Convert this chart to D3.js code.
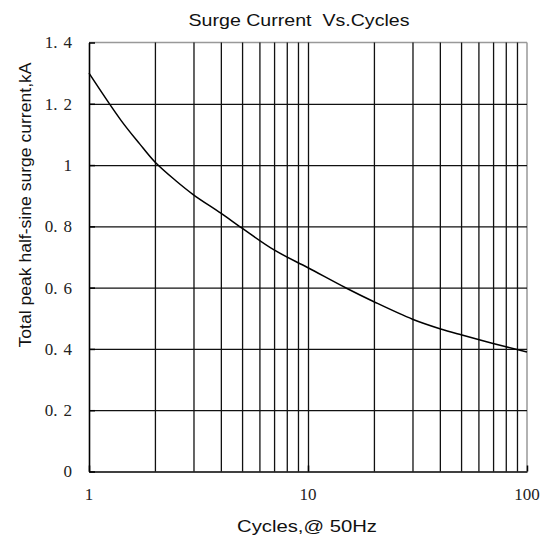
<!DOCTYPE html>
<html><head><meta charset="utf-8">
<script src="https://cdn.jsdelivr.net/npm/d3@7/dist/d3.min.js"></script>
<style>body{margin:0;background:#fff;} svg{display:block;} .serif{font-family:"Liberation Serif","Times New Roman",serif;}</style>
</head><body>
<script>
const cycles = [1, 1.4, 1.7, 2, 2.5, 3, 4, 5, 7, 10, 15, 20, 30, 40, 50, 70, 100];
const current = [1.30, 1.146, 1.07, 1.01, 0.948, 0.903, 0.843, 0.794, 0.723, 0.665, 0.598, 0.554, 0.497, 0.466, 0.446, 0.418, 0.39];
const xTickLabels = [1, 10, 100];
const xGrid = [2,3,4,5,6,7,8,9,10,20,30,40,50,60,70,80,90];
const yTicks = [0, 0.2, 0.4, 0.6, 0.8, 1, 1.2, 1.4];
const titleText = "Surge Current  Vs.Cycles";
const xTitle = "Cycles,@ 50Hz";
const yTitle = "Total peak half-sine surge current,kA";

const W = 543, H = 539;
const m = {left: 89, right: 16, top: 42.5, bottom: 67.5};
const svg = d3.select("body").append("svg").attr("width", W).attr("height", H);

const x = d3.scaleLog().domain([1, 100]).range([m.left, W - m.right]);
const y = d3.scaleLinear().domain([0, 1.4]).range([H - m.bottom, m.top]);
const pw = W - m.right - m.left, ph = H - m.bottom - m.top;

// border top/right grey
svg.append("line").attr("x1", x(1)).attr("x2", x(100)).attr("y1", y(1.4)).attr("y2", y(1.4)).attr("stroke", "#999").attr("stroke-width", 1.5);
svg.append("line").attr("x1", x(100)).attr("x2", x(100)).attr("y1", y(0)).attr("y2", y(1.4)).attr("stroke", "#999").attr("stroke-width", 1.5);

// vertical grid
svg.append("g").attr("transform", `translate(0,${y(0)})`)
  .call(d3.axisBottom(x).tickValues(xGrid).tickSize(-ph).tickFormat(""))
  .call(g => g.select(".domain").remove())
  .call(g => g.selectAll("line").attr("stroke", "#111").attr("stroke-width", 1.3));

// horizontal grid
svg.append("g").attr("transform", `translate(${x(1)},0)`)
  .call(d3.axisLeft(y).tickValues(yTicks.filter(v => v > 0 && v < 1.4)).tickSize(-pw).tickFormat(""))
  .call(g => g.select(".domain").remove())
  .call(g => g.selectAll("line").attr("stroke", "#111").attr("stroke-width", 1.3));

// left axis with inner ticks
svg.append("g").attr("transform", `translate(${x(1)},0)`)
  .call(d3.axisRight(y).tickValues(yTicks).tickSize(6).tickSizeOuter(0).tickFormat(""))
  .call(g => g.select(".domain").attr("stroke", "#000").attr("stroke-width", 1.6))
  .call(g => g.selectAll("line").attr("stroke", "#000").attr("stroke-width", 1.5));
// bottom axis
svg.append("g").attr("transform", `translate(0,${y(0)})`)
  .call(d3.axisTop(x).tickValues(xTickLabels).tickSize(6).tickSizeOuter(0).tickFormat(""))
  .call(g => g.select(".domain").attr("stroke", "#000").attr("stroke-width", 1.6))
  .call(g => g.selectAll("line").attr("stroke", "#000").attr("stroke-width", 1.5));

// y tick labels
const yl = svg.append("g").selectAll("text").data(yTicks).join("text")
  .attr("class", "serif")
  .attr("x", 72).attr("y", d => y(d)).attr("dy", "0.35em")
  .attr("text-anchor", "end")
  .style("font-size", "17px")
  .attr("fill", "#222");
yl.each(function(d) {
  const t = d3.select(this);
  if (d === 0 || d === 1) { t.text(String(d)); return; }
  const s = d.toFixed(1).split(".");
  t.append("tspan").text(s[0] + ".");
  t.append("tspan").attr("dx", 6).text(s[1]);
});

// x tick labels
svg.append("g").selectAll("text").data(xTickLabels).join("text")
  .attr("class", "serif")
  .attr("x", d => x(d)).attr("y", 500)
  .attr("text-anchor", "middle")
  .style("font-size", "17px")
  .attr("fill", "#222")
  .text(d => d);

// curve
const line = d3.line().x((d, i) => x(cycles[i])).y(d => y(d)).curve(d3.curveCatmullRom.alpha(0.5));
svg.append("path").datum(current).attr("d", line)
  .attr("fill", "none").attr("stroke", "#000").attr("stroke-width", 1.5);

// titles
svg.append("text").attr("x", 299).attr("y", 26).attr("text-anchor", "middle")
  .attr("font-family", "'Liberation Sans', Arial, sans-serif").attr("font-size", 17)
  .style("white-space", "pre").attr("fill", "#111")
  .attr("textLength", 221).attr("lengthAdjust", "spacingAndGlyphs")
  .text(titleText);

svg.append("text").attr("x", 307).attr("y", 532).attr("text-anchor", "middle")
  .attr("font-family", "'Liberation Sans', Arial, sans-serif").attr("font-size", 17)
  .attr("fill", "#111")
  .attr("textLength", 140).attr("lengthAdjust", "spacingAndGlyphs")
  .text(xTitle);

svg.append("text").attr("transform", "translate(31,205) rotate(-90)")
  .attr("text-anchor", "middle")
  .attr("font-family", "'Liberation Sans', Arial, sans-serif").attr("font-size", 17)
  .attr("fill", "#111")
  .attr("textLength", 285).attr("lengthAdjust", "spacingAndGlyphs")
  .text(yTitle);
</script>
</body></html>
